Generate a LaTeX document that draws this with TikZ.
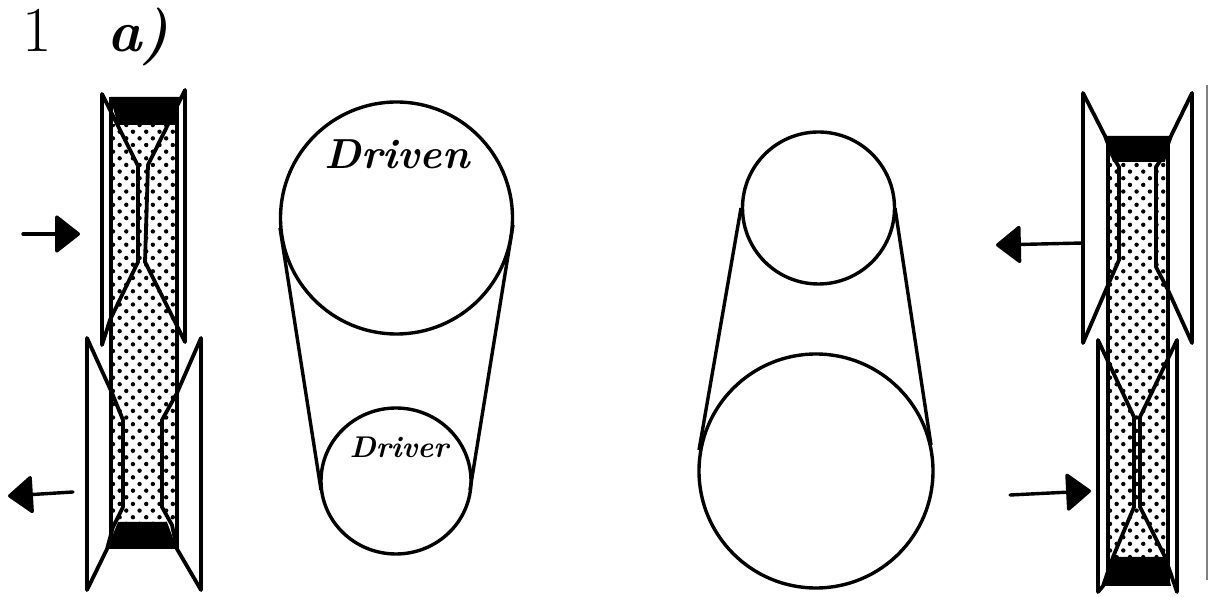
\documentclass[tikz,border=0pt]{standalone}
\usepackage{xcolor}
\usetikzlibrary{arrows.meta, patterns.meta}

\tikzset{
  beltdots/.style={pattern={Dots[angle=45,distance=4.7pt,radius=1.1pt]}, pattern color=black},
  wall/.style={line width=2pt, line join=miter},
  flange/.style={line width=1.9pt, line join=round, line cap=round},
  rim/.style={line width=1.7pt},
  pushtip/.style={line width=1.7pt, line cap=round, -{Triangle[length=13pt,width=20pt,round]}},
  hand/.style={font=\bfseries\itshape\fontsize{#1}{#1}\selectfont, inner sep=0pt}
}

\begin{document}
\begin{tikzpicture}[x=0.5pt, y=-0.5pt]
  \useasboundingbox (0,0) rectangle (1209,597);

  % Heading
  \node[font=\rmfamily\fontsize{32}{32}\selectfont, inner sep=0pt] (partnum) at (37,30) {1};
  \node[hand=29] (partlabel) at (138,37) {a)};

  % Left pair: belt
  \fill[beltdots] (111,125) rectangle (177,522);
  \fill[black] (110,97) -- (180,97) -- (175,125) -- (118,125) -- cycle;
  \fill[black] (118,522) -- (167,522) -- (177,549) -- (107,549) -- cycle;
  \draw[wall] (111,97) -- (111,549);
  \draw[wall] (177,97) -- (177,549);

  % Left pair: upper pulley
  \draw[flange] (102,345) -- (102,94) -- (138,166) -- (138,262) -- (110,320) -- cycle;
  \draw[flange] (185,342) -- (185,90) -- (148,165) -- (145,262) -- cycle;

  % Left pair: lower pulley
  \draw[flange] (87,590) -- (87,338) -- (112,393) -- (123,420) -- (123,507) -- (113,527) -- (107,549) -- cycle;
  \draw[flange] (201,590) -- (201,338) -- (177,393) -- (162,420) -- (162,507) -- (172,525) -- (177,549) -- cycle;

  % Left pair: axial arrows
  \draw[pushtip] (23,234) -- (80,234);
  \draw[pushtip] (73,492) -- (8,496);

  % Drive with large upper wheel
  \draw[rim] (396.5,218) circle (116);
  \draw[rim] (396,481) ellipse (75 and 73);
  \draw[rim] (280,228) -- (321,490);
  \draw[rim] (513,225) -- (470,490);
  \node[hand=21] (driven) at (397,154) {Driven};
  \node[hand=15] (driver) at (399,447) {Driver};

  % Drive with large lower wheel
  \draw[rim] (818.5,208) circle (76);
  \draw[rim] (816,471) circle (117);
  \draw[rim] (741,208) -- (699,450);
  \draw[rim] (895,208) -- (931,445);

  % Right pair: belt
  \fill[beltdots] (1108,162) rectangle (1168,557);
  \fill[black] (1105,136) -- (1171,136) -- (1165,162) -- (1113,162) -- cycle;
  \fill[black] (1113,557) -- (1165,557) -- (1171,586) -- (1103,586) -- cycle;
  \draw[wall] (1108,136) -- (1108,586);
  \draw[wall] (1168,136) -- (1168,586);

  % Right pair: upper pulley
  \draw[flange] (1083,343) -- (1083,93) -- (1105,136) -- (1112,155) -- (1119,167) -- (1119,260) -- (1108,285) -- cycle;
  \draw[flange] (1192,343) -- (1192,93) -- (1171,136) -- (1164,155) -- (1156,167) -- (1156,267) -- (1168,290) -- cycle;

  % Right pair: lower pulley
  \draw[flange] (1098,592) -- (1098,340) -- (1134,417) -- (1134,507) -- (1113,557) -- (1103,586) -- cycle;
  \draw[flange] (1177,592) -- (1177,340) -- (1140,417) -- (1140,507) -- (1165,557) -- cycle;

  % Right pair: axial arrows
  \draw[pushtip] (1083,243) -- (996,245);
  \draw[pushtip] (1010,495) -- (1091,491);

  % Edge of the sheet
  \draw[gray, line width=0.6pt] (1207,85) -- (1207,580);
\end{tikzpicture}
\end{document}
